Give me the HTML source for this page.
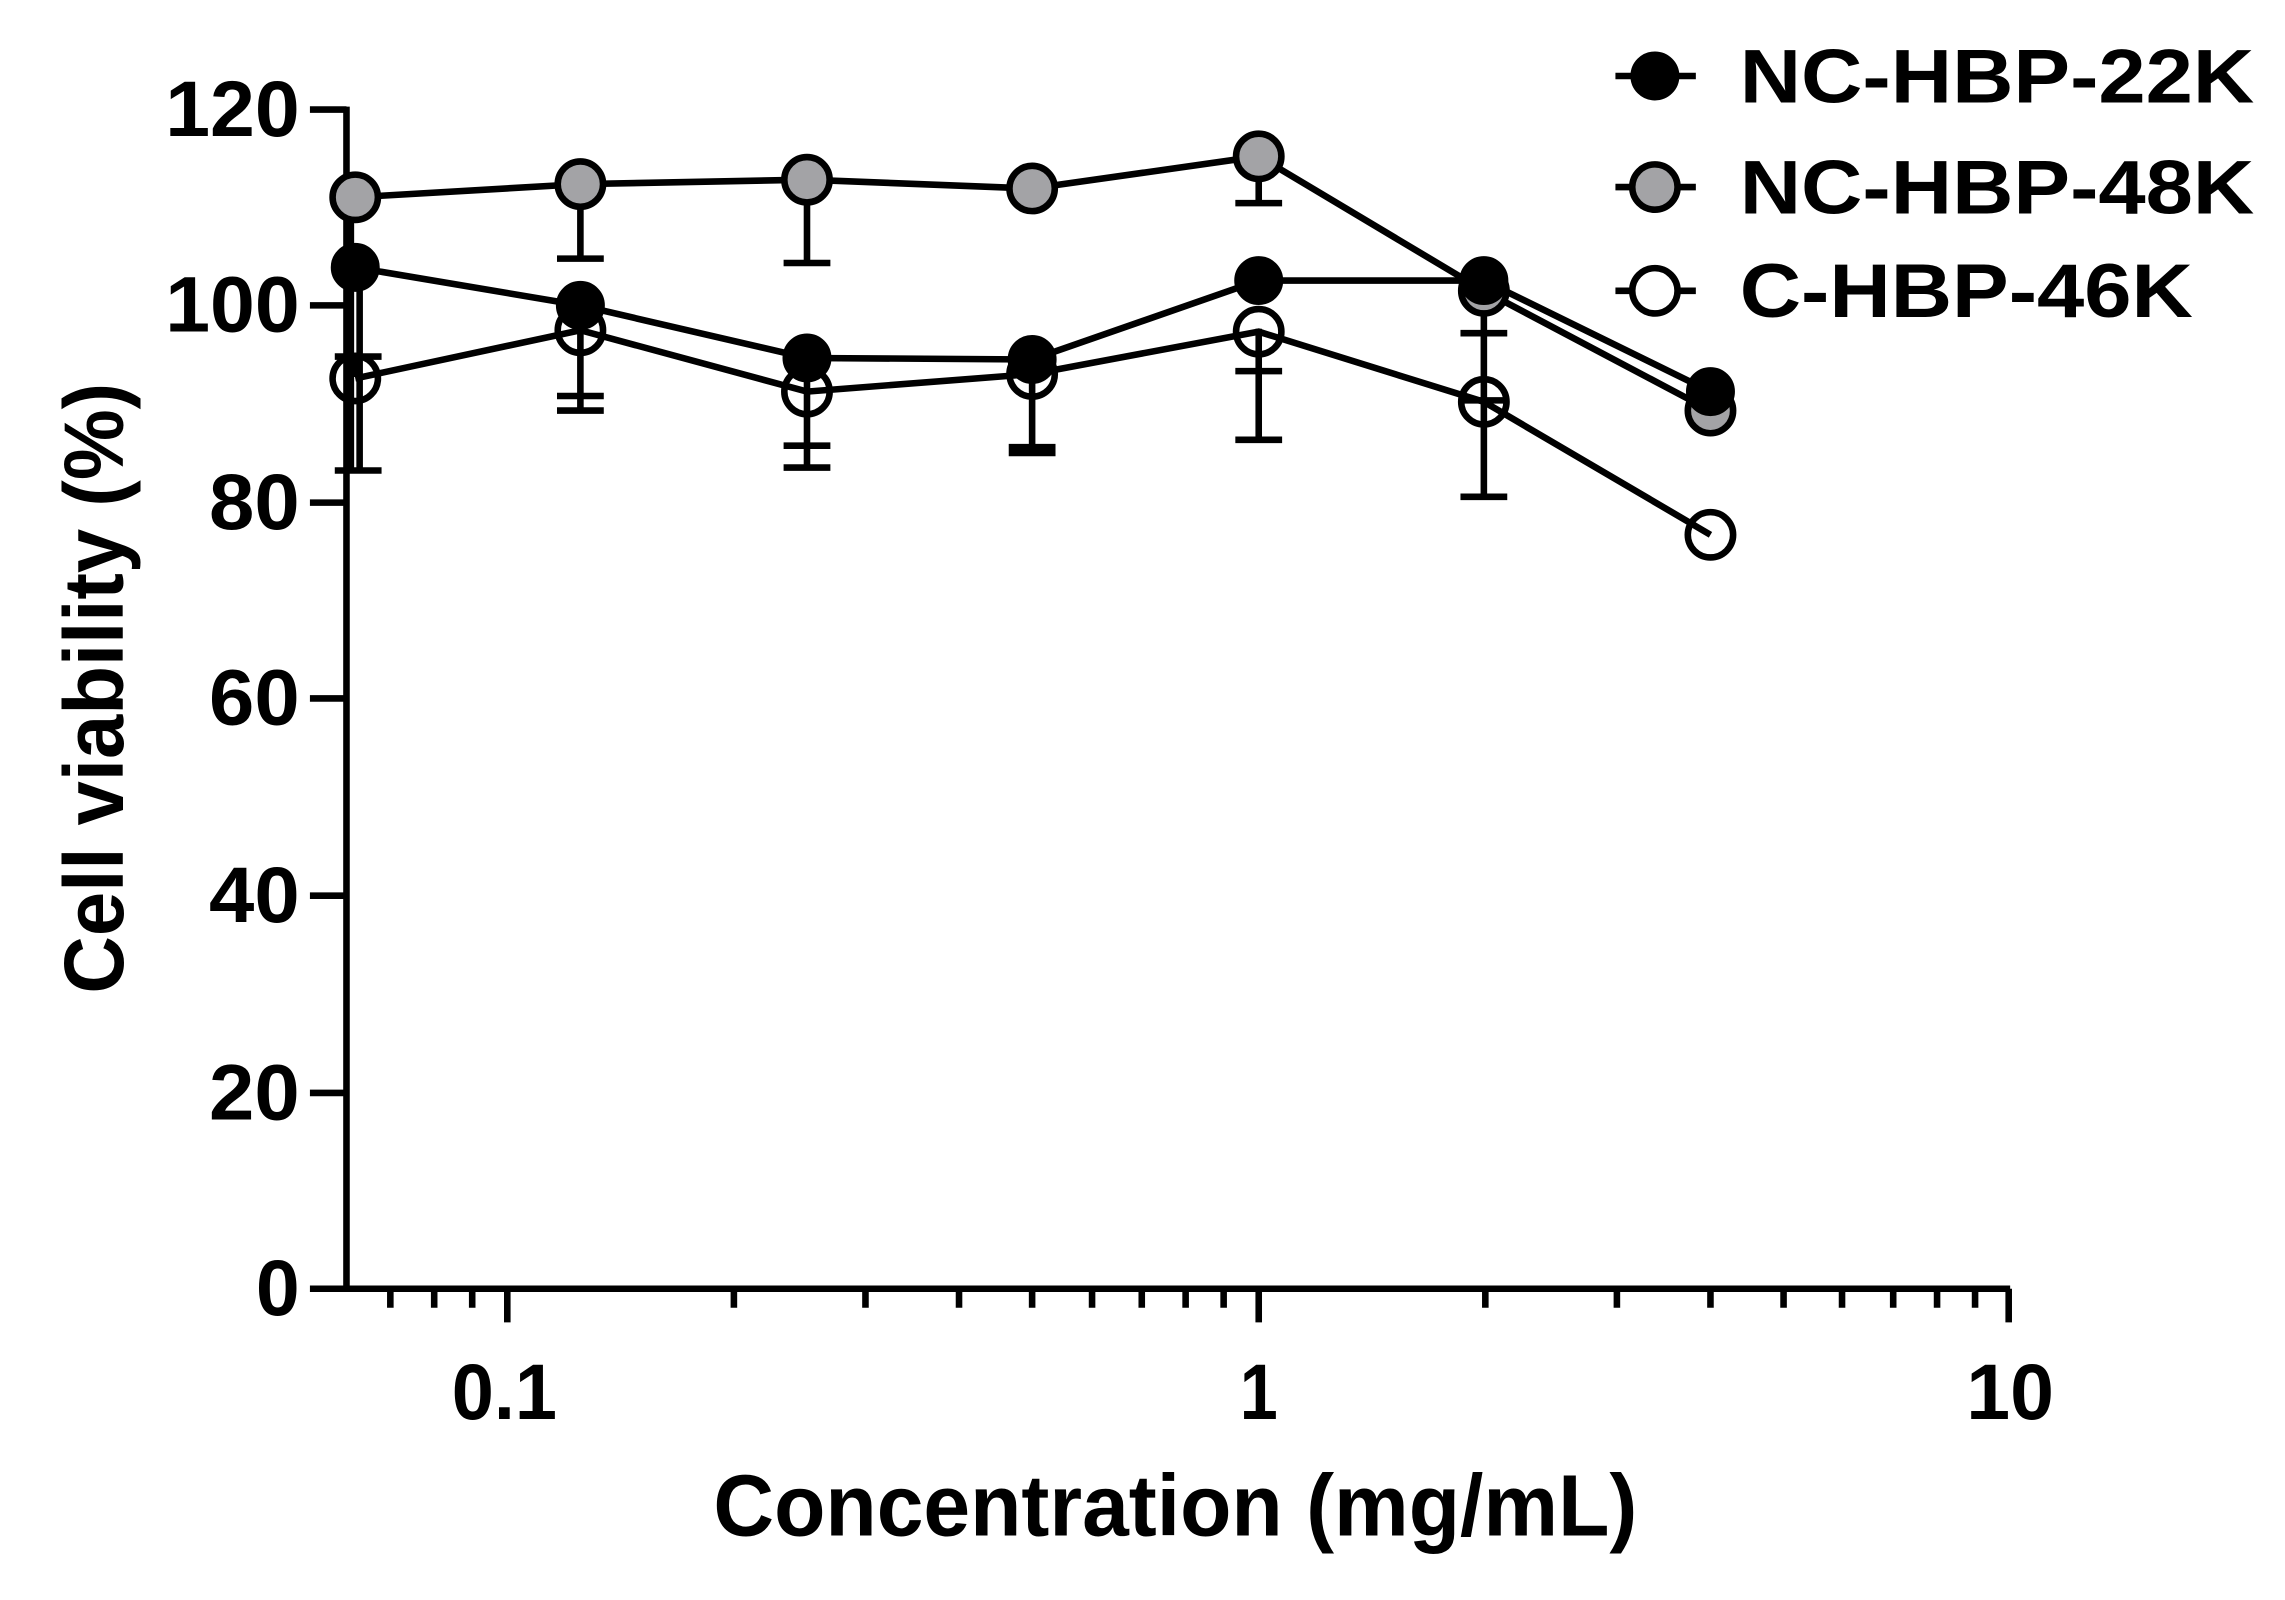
<!DOCTYPE html>
<html><head><style>html,body{margin:0;padding:0;background:#fff}svg{display:block}</style></head>
<body>
<svg width="2285" height="1600" viewBox="0 0 1563 1095" preserveAspectRatio="none" xmlns="http://www.w3.org/2000/svg" font-family="Liberation Sans, Arial, sans-serif" font-weight="bold">
<g stroke="#000" stroke-width="4.5" fill="none">
<path d="M237 73 V884 M235 882 H1375"/>
<path d="M212 75 H237 M212 209 H237 M212 344 H237 M212 478 H237 M212 613 H237 M212 748 H237 M212 882 H237"/>
<path d="M347 882 V905 M861 882 V905 M1374 882 V905"/>
<path d="M267 882 V895 M297 882 V895 M323 882 V895
M502 882 V895 M592 882 V895 M656 882 V895 M706 882 V895 M747 882 V895 M781 882 V895 M811 882 V895 M837 882 V895
M1016 882 V895 M1106 882 V895 M1170 882 V895 M1220 882 V895 M1260 882 V895 M1295 882 V895 M1325 882 V895 M1351 882 V895"/>
<path d="M240 135 V322 M246 183 V322 M229 322 H261 M243 258 V244 M229 244 H261"/>
<path d="M397 125 V177 M381 177 H413 M397 208 V281 M381 271 H413 M381 281 H413"/>
<path d="M552 122 V180 M536 180 H568 M552 245 V320 M536 305 H568 M536 320 H568"/>
<path d="M706 245 V309 M690 306 H722 M690 310 H722"/>
<path d="M861 106 V139 M845 139 H877 M861 225 V301 M845 254 H877 M845 301 H877"/>
<path d="M1015 193 V340 M999 228 H1031 M999 274 H1031 M999 340 H1031"/>
<polyline points="243,135 397,126 552,123 706,129 861,107 1015,199 1170,281"/>
<polyline points="243,183 397,209 552,245 706,246 861,192 1015,192 1170,268"/>
<polyline points="243,259 397,226 552,268 706,256 861,227 1015,275 1170,366"/>
</g>
<g stroke="#000" stroke-width="4.5" fill="#a3a3a6">
<circle cx="243" cy="135" r="15.5"/><circle cx="397" cy="126" r="15.5"/><circle cx="552" cy="123" r="15.5"/><circle cx="706" cy="129" r="15.5"/><circle cx="861" cy="107" r="15.5"/><circle cx="1015" cy="199" r="15.5"/><circle cx="1170" cy="281" r="15.5"/>
</g>
<g stroke="#000" stroke-width="4.5" fill="#000">
<circle cx="243" cy="183" r="14.5"/><circle cx="397" cy="209" r="14.5"/><circle cx="552" cy="245" r="14.5"/><circle cx="706" cy="246" r="14.5"/><circle cx="861" cy="192" r="14.5"/><circle cx="1015" cy="192" r="14.5"/><circle cx="1170" cy="268" r="14.5"/>
</g>
<g stroke="#000" stroke-width="4.5" fill="none">
<circle cx="243" cy="259" r="15.5"/><circle cx="397" cy="226" r="15.5"/><circle cx="552" cy="268" r="15.5"/><circle cx="706" cy="256" r="15.5"/><circle cx="861" cy="227" r="15.5"/><circle cx="1015" cy="275" r="15.5"/><circle cx="1170" cy="366" r="15.5"/>
</g>
<g font-size="54" text-anchor="end" fill="#000">
<text x="205" y="93" textLength="92" lengthAdjust="spacingAndGlyphs">120</text>
<text x="205" y="227" textLength="92" lengthAdjust="spacingAndGlyphs">100</text>
<text x="205" y="362" textLength="62" lengthAdjust="spacingAndGlyphs">80</text>
<text x="205" y="496" textLength="62" lengthAdjust="spacingAndGlyphs">60</text>
<text x="205" y="631" textLength="62" lengthAdjust="spacingAndGlyphs">40</text>
<text x="205" y="766" textLength="62" lengthAdjust="spacingAndGlyphs">20</text>
<text x="205" y="900" textLength="30" lengthAdjust="spacingAndGlyphs">0</text>
</g>
<g font-size="54" text-anchor="middle" fill="#000">
<text x="345" y="971" textLength="72" lengthAdjust="spacingAndGlyphs">0.1</text>
<text x="861" y="971" textLength="26" lengthAdjust="spacingAndGlyphs">1</text>
<text x="1375" y="971" textLength="60" lengthAdjust="spacingAndGlyphs">10</text>
</g>
<text x="804" y="1051" font-size="60" text-anchor="middle" textLength="632" lengthAdjust="spacingAndGlyphs">Concentration  (mg/mL)</text>
<text transform="translate(84,471) rotate(-90)" font-size="58" text-anchor="middle" textLength="418" lengthAdjust="spacingAndGlyphs">Cell viability (%)</text>
<g stroke="#000" stroke-width="4.5">
<path d="M1105 52 H1160 M1105 128 H1160 M1105 199 H1160"/>
<circle cx="1132" cy="52" r="14.5" fill="#000"/>
<circle cx="1132" cy="128" r="15.5" fill="#a3a3a6"/>
<circle cx="1132" cy="199" r="15.5" fill="#fff"/>
</g>
<g font-size="52">
<text x="1190" y="70" textLength="352" lengthAdjust="spacingAndGlyphs">NC-HBP-22K</text>
<text x="1190" y="146" textLength="352" lengthAdjust="spacingAndGlyphs">NC-HBP-48K</text>
<text x="1190" y="217" textLength="310" lengthAdjust="spacingAndGlyphs">C-HBP-46K</text>
</g>
</svg>
</body></html>
